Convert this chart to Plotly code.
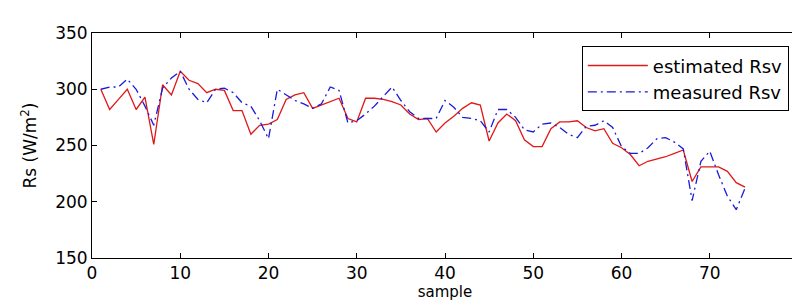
import plotly.graph_objects as go

samples = list(range(1, 75))
estimated_rsv = [300, 282, 291, 300, 282, 293, 251, 304, 295, 316,
                 308, 305, 297, 300, 299, 281, 281, 260, 268, 269,
                 273, 291, 295, 297, 283, 286, 289, 292, 274, 271,
                 292, 292, 291, 289, 286, 278, 273, 274, 262, 270,
                 276, 283, 288, 286, 254, 270, 278, 272, 255, 249,
                 249, 265, 271, 271, 272, 266, 263, 265, 252, 248,
                 242, 232, 236, 238, 240, 243, 246, 218, 231, 231,
                 231, 227, 217, 213]
measured_rsv = [300, 302, 302, 309, 300, 285, 268, 301, 310, 316,
                300, 291, 288, 300, 301, 297, 288, 285, 272, 256,
                300, 295, 290, 287, 283, 287, 302, 299, 270, 272,
                278, 285, 294, 302, 290, 280, 274, 274, 274, 290,
                284, 275, 274, 272, 262, 282, 282, 275, 264, 262,
                269, 270, 266, 260, 257, 267, 268, 272, 266, 249,
                243, 243, 248, 256, 257, 253, 247, 201, 236, 245,
                224, 205, 193, 212]

x_ticks = [0, 10, 20, 30, 40, 50, 60, 70, 80]
y_ticks = [150, 200, 250, 300, 350]

FONT = "DejaVu Sans"

fig = go.Figure()
fig.add_trace(go.Scatter(x=samples, y=estimated_rsv, mode="lines",
                         name="estimated Rsv",
                         line=dict(color="#e01818", width=1.3)))
fig.add_trace(go.Scatter(x=samples, y=measured_rsv, mode="lines",
                         name="measured Rsv",
                         line=dict(color="#1a1ad8", width=1.3, dash="9px,4px,2px,4px")))

axis_common = dict(showline=True, linecolor="black", linewidth=1, mirror="ticks",
                   ticks="inside", ticklen=5, tickcolor="black", showgrid=False,
                   zeroline=False, automargin=False,
                   tickfont=dict(family=FONT, size=17, color="black"))

fig.update_layout(
    width=800, height=300,
    margin=dict(l=84, r=10, t=25, b=50),
    paper_bgcolor="white", plot_bgcolor="white",
    font=dict(family=FONT, color="black"),
    xaxis=dict(range=[0, 80], tickvals=x_ticks,
               title=dict(text="sample", font=dict(family=FONT, size=15), standoff=2),
               **axis_common),
    yaxis=dict(range=[150, 350], tickvals=y_ticks,
               title=dict(text="Rs (W/m<sup>2</sup>)", font=dict(family=FONT, size=17), standoff=14),
               **axis_common),
    legend=dict(x=0.987, y=0.941, xanchor="right", yanchor="top",
                bgcolor="white", bordercolor="black", borderwidth=1,
                font=dict(family=FONT, size=18, color="black"),
                tracegroupgap=0, itemwidth=60),
    showlegend=True,
)

fig.write_html("out.html")
